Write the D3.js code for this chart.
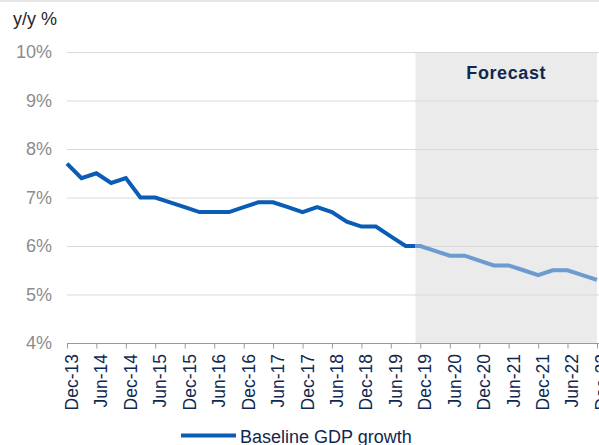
<!DOCTYPE html>
<html>
<head>
<meta charset="utf-8">
<script src="https://cdn.jsdelivr.net/npm/d3@7"></script>
<style>
  body { margin: 0; background: #fff; }
  svg { display: block; font-family: "Liberation Sans", Arial, sans-serif; }
</style>
</head>
<body>
<script>
// quarterly y/y GDP growth, actual then baseline forecast
var quarters = ["Dec-13","Mar-14","Jun-14","Sep-14","Dec-14","Mar-15","Jun-15","Sep-15","Dec-15",
  "Mar-16","Jun-16","Sep-16","Dec-16","Mar-17","Jun-17","Sep-17","Dec-17","Mar-18","Jun-18",
  "Sep-18","Dec-18","Mar-19","Jun-19","Sep-19","Dec-19","Mar-20","Jun-20","Sep-20","Dec-20",
  "Mar-21","Jun-21","Sep-21","Dec-21","Mar-22","Jun-22","Sep-22","Dec-22"];
var growth = [7.7, 7.4, 7.5, 7.3, 7.4, 7.0, 7.0, 6.9, 6.8,
  6.7, 6.7, 6.7, 6.8, 6.9, 6.9, 6.8, 6.7, 6.8, 6.7,
  6.5, 6.4, 6.4, 6.2, 6.0, 6.0, 5.9, 5.8, 5.8, 5.7,
  5.6, 5.6, 5.5, 5.4, 5.5, 5.5, 5.4, 5.3];
var yTicks = [4, 5, 6, 7, 8, 9, 10];
var forecastFrom = "Nov-19", forecastTo = "Dec-22";
var seriesName = "Baseline GDP growth";

var width = 599, height = 445;
var svg = d3.select("body").append("svg")
    .attr("width", width)
    .attr("height", height);

var parseTime = d3.timeParse("%b-%y"),
    formatTime = d3.timeFormat("%b-%y");

var data = quarters.map(function(q, i) { return {date: parseTime(q), value: growth[i]}; });

var x = d3.scaleTime()
    .domain(d3.extent(data, function(d) { return d.date; }))
    .range([67, 597]);
var y = d3.scaleLinear().domain([4, 10]).range([343, 52]);

// thin strip across the top
svg.append("rect").attr("x", 0).attr("y", 0).attr("width", width).attr("height", 2).attr("fill", "#e6e6e6");

// forecast shading
var fx0 = x(parseTime(forecastFrom)), fx1 = x(parseTime(forecastTo));
svg.append("rect")
    .attr("x", fx0).attr("y", y(10))
    .attr("width", fx1 - fx0).attr("height", y(4) - y(10))
    .attr("fill", "#ebebeb");

svg.append("text")
    .attr("x", (fx0 + fx1) / 2)
    .attr("y", 79)
    .attr("text-anchor", "middle")
    .attr("fill", "#10284f")
    .style("font-size", "18px")
    .style("font-weight", "bold")
    .style("letter-spacing", "0.6px")
    .text("Forecast");

// gridlines + y labels
svg.append("g").selectAll("line")
    .data(yTicks.filter(function(d) { return d > 4; }))
    .enter().append("line")
      .attr("x1", 67).attr("x2", width)
      .attr("y1", function(d) { return y(d) + 0.5; })
      .attr("y2", function(d) { return y(d) + 0.5; })
      .attr("stroke", "#d9d9d9");

svg.append("g").selectAll("text")
    .data(yTicks)
    .enter().append("text")
      .attr("x", 52)
      .attr("y", function(d) { return y(d); })
      .attr("dy", "0.36em")
      .attr("text-anchor", "end")
      .attr("fill", "#8c8c8c")
      .style("font-size", "18px")
      .text(function(d) { return d + "%"; });

svg.append("text")
    .attr("x", 13).attr("y", 25)
    .attr("fill", "#262626")
    .style("font-size", "18px")
    .text("y/y %");

// x axis
var tickDates = data.filter(function(d) { var m = d.date.getMonth(); return m === 5 || m === 11; })
    .map(function(d) { return d.date; });

var xAxis = svg.append("g")
    .attr("transform", "translate(0," + (y(4) + 0.5) + ")")
    .call(d3.axisBottom(x).tickValues(tickDates).tickSize(5).tickSizeOuter(0).tickFormat(""));
xAxis.select(".domain").attr("stroke", "#999").attr("d", "M67,0H" + width);
xAxis.selectAll(".tick line").attr("stroke", "#999");

svg.append("g").selectAll("text")
    .data(tickDates)
    .enter().append("text")
      .attr("transform", function(d) { return "translate(" + x(d) + ",354) rotate(-90)"; })
      .attr("y", 11)
      .attr("text-anchor", "end")
      .attr("fill", "#10284f")
      .style("font-size", "17.5px")
      .text(function(d) { return formatTime(d); });

// line: dark for actual, light in the forecast window
var line = d3.line()
    .x(function(d) { return x(d.date); })
    .y(function(d) { return y(d.value); });

var defs = svg.append("defs");
defs.append("clipPath").attr("id", "clip-actual")
  .append("rect").attr("x", 0).attr("y", 0).attr("width", fx0).attr("height", height);
defs.append("clipPath").attr("id", "clip-forecast")
  .append("rect").attr("x", fx0).attr("y", 0).attr("width", width - fx0).attr("height", height);

svg.append("path")
    .datum(data)
    .attr("fill", "none")
    .attr("stroke", "#0b5cb5")
    .attr("stroke-width", 4)
    .attr("clip-path", "url(#clip-actual)")
    .attr("d", line);

svg.append("path")
    .datum(data)
    .attr("fill", "none")
    .attr("stroke", "#6b9bd0")
    .attr("stroke-width", 4)
    .attr("clip-path", "url(#clip-forecast)")
    .attr("d", line);

// legend
svg.append("line")
    .attr("x1", 181).attr("x2", 236)
    .attr("y1", 435.5).attr("y2", 435.5)
    .attr("stroke", "#0b5cb5")
    .attr("stroke-width", 4);
svg.append("text")
    .attr("x", 240)
    .attr("y", 443)
    .attr("fill", "#10284f")
    .style("font-size", "18px")
    .text(seriesName);
</script>
</body>
</html>
